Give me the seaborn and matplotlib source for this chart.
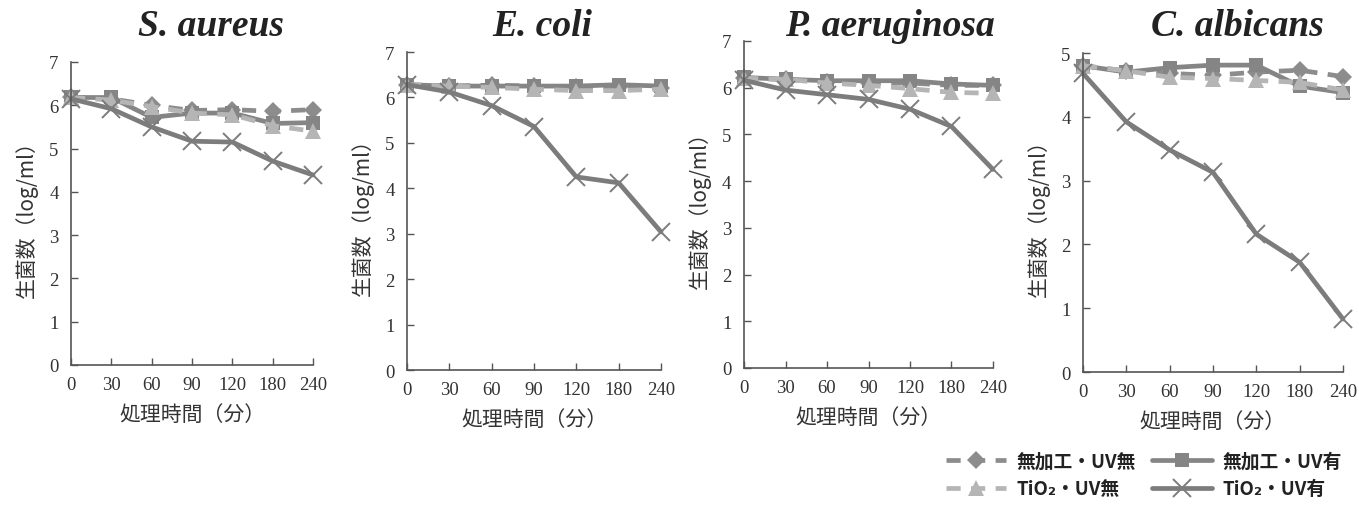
import matplotlib
matplotlib.use("Agg")
import matplotlib.pyplot as plt
import seaborn as sns
import pandas as pd
import numpy as np
from matplotlib.lines import Line2D

sns.set_theme(style="ticks")
plt.rcParams['font.family'] = ['Liberation Serif', 'Noto Sans CJK JP', 'DejaVu Sans']

# ---------------- data ----------------
times = ["0", "30", "60", "90", "120", "180", "240"]
panels = ["S. aureus", "E. coli", "P. aeruginosa", "C. albicans"]
series = ["無加工・UV無", "無加工・UV有", "TiO₂・UV無", "TiO₂・UV有"]

saureus_raw_uvoff = [6.18, 6.15, 6.00, 5.88, 5.90, 5.86, 5.90]
saureus_raw_uvon = [6.18, 6.18, 5.72, 5.82, 5.82, 5.58, 5.60]
saureus_tio2_uvoff = [6.18, 6.12, 5.97, 5.82, 5.78, 5.53, 5.40]
saureus_tio2_uvon = [6.15, 5.92, 5.50, 5.17, 5.15, 4.71, 4.39]

ecoli_raw_uvoff = [6.28, 6.25, 6.27, 6.25, 6.22, 6.22, 6.20]
ecoli_raw_uvon = [6.28, 6.25, 6.25, 6.25, 6.25, 6.28, 6.25]
ecoli_tio2_uvoff = [6.28, 6.25, 6.22, 6.18, 6.15, 6.15, 6.18]
ecoli_tio2_uvon = [6.28, 6.12, 5.82, 5.36, 4.25, 4.12, 3.04]

paer_raw_uvoff = [6.20, 6.18, 6.12, 6.10, 6.10, 6.05, 6.05]
paer_raw_uvon = [6.22, 6.18, 6.15, 6.15, 6.15, 6.08, 6.05]
paer_tio2_uvoff = [6.20, 6.18, 6.10, 6.05, 5.98, 5.90, 5.88]
paer_tio2_uvon = [6.16, 5.95, 5.85, 5.75, 5.54, 5.17, 4.25]

calb_raw_uvoff = [4.80, 4.72, 4.68, 4.65, 4.70, 4.73, 4.63]
calb_raw_uvon = [4.80, 4.70, 4.77, 4.81, 4.81, 4.48, 4.38]
calb_tio2_uvoff = [4.80, 4.72, 4.62, 4.60, 4.57, 4.54, 4.42]
calb_tio2_uvon = [4.68, 3.92, 3.48, 3.13, 2.16, 1.72, 0.83]

ymax = [7, 7, 7, 5]

panel_data = {
    "S. aureus": [saureus_raw_uvoff, saureus_raw_uvon, saureus_tio2_uvoff, saureus_tio2_uvon],
    "E. coli": [ecoli_raw_uvoff, ecoli_raw_uvon, ecoli_tio2_uvoff, ecoli_tio2_uvon],
    "P. aeruginosa": [paer_raw_uvoff, paer_raw_uvon, paer_tio2_uvoff, paer_tio2_uvon],
    "C. albicans": [calb_raw_uvoff, calb_raw_uvon, calb_tio2_uvoff, calb_tio2_uvon],
}

rows = []
for p in panels:
    for s, vals in zip(series, panel_data[p]):
        for i, (t, v) in enumerate(zip(times, vals)):
            rows.append({"panel": p, "series": s, "idx": i, "time": t, "value": v})
df = pd.DataFrame(rows)

# ---------------- styles ----------------
style = {
    "無加工・UV無": dict(color="#8c8c8c", marker="D", ls=(0, (3.0, 2.2)), ms=9),
    "無加工・UV有": dict(color="#858585", marker="s", ls="-", ms=10),
    "TiO₂・UV無": dict(color="#b5b5b5", marker="^", ls=(0, (3.0, 2.2)), ms=11),
    "TiO₂・UV有": dict(color="#7c7c7c", marker="x", ls="-", ms=13),
}
draw_order = ["無加工・UV無", "無加工・UV有", "TiO₂・UV無", "TiO₂・UV有"]

fig = plt.figure(figsize=(13.59, 5.10), dpi=100)
W, H = 1359, 510
# left, right, top, bottom in pixels
boxes = [(71, 313, 63, 366), (407, 661, 53, 371), (744, 993, 42, 369), (1083, 1343, 54, 373)]
title_x = [211, 542, 890, 1237]

txt_color = "#333333"
jp = ['Noto Sans CJK JP', 'DejaVu Sans']

for k, p in enumerate(panels):
    l, r, t, b = boxes[k]
    ax = fig.add_axes([l / W, (H - b) / H, (r - l) / W, (b - t) / H])
    sub = df[df.panel == p]
    for s in draw_order:
        st = style[s]
        d = sub[sub.series == s]
        kw = dict(data=d, x="idx", y="value", ax=ax, color=st["color"], linewidth=3.4,
                  marker=st["marker"], markersize=st["ms"], legend=False, clip_on=False,
                  markeredgecolor=st["color"], markerfacecolor=st["color"])
        if st["marker"] == "x":
            kw.update(markeredgewidth=1.4)
        else:
            kw.update(markeredgewidth=0)
        sns.lineplot(**kw)
        ax.lines[-1].set_linestyle(st["ls"])
    ax.set_xlim(0, 6)
    ax.set_ylim(0, ymax[k])
    ax.set_xticks(range(len(times)))
    ax.set_xticklabels(times)
    ax.set_yticks(range(0, ymax[k] + 1))
    ax.tick_params(direction="in", length=5, width=1, colors="#555555", labelcolor=txt_color,
                   labelsize=13.5)
    ax.tick_params(axis="y", pad=9)
    ax.tick_params(axis="x", pad=8)
    for lab in ax.get_xticklabels() + ax.get_yticklabels():
        lab.set_family("Liberation Serif")
    sns.despine(ax=ax)
    for sp in ["left", "bottom"]:
        ax.spines[sp].set_color("#555555")
        ax.spines[sp].set_linewidth(1.2)
    ax.set_xlabel("処理時間（分）", family=jp, fontsize=15, color=txt_color, labelpad=7)
    ax.set_ylabel("生菌数（log/ml）", family=jp, fontsize=15, color=txt_color, labelpad=8)
    ax.set_facecolor("none")
    fig.text(title_x[k] / W, 1 - 27 / H, p, ha="center", va="center", family="Liberation Serif",
             fontstyle="italic", fontweight="bold", fontsize=27, color="#222222")

# legend
handles = []
leg_order = ["無加工・UV無", "TiO₂・UV無", "無加工・UV有", "TiO₂・UV有"]
for s in leg_order:
    st = style[s]
    handles.append(Line2D([], [], color=st["color"], lw=3.4, ls=st["ls"], marker=st["marker"],
                          markersize=st["ms"], markeredgecolor=st["color"],
                          markeredgewidth=(1.4 if st["marker"] == "x" else 0)))
leg = fig.legend(handles, leg_order, loc="lower right", bbox_to_anchor=(1.0, -0.012), ncol=2,
                 frameon=False, handlelength=3.2, columnspacing=0.9, labelspacing=0.45,
                 handletextpad=0.55, prop={"family": jp, "weight": "bold", "size": 13.5})
for tx in leg.get_texts():
    tx.set_color("#222222")

fig.savefig("out.png", dpi=100, facecolor="white")
